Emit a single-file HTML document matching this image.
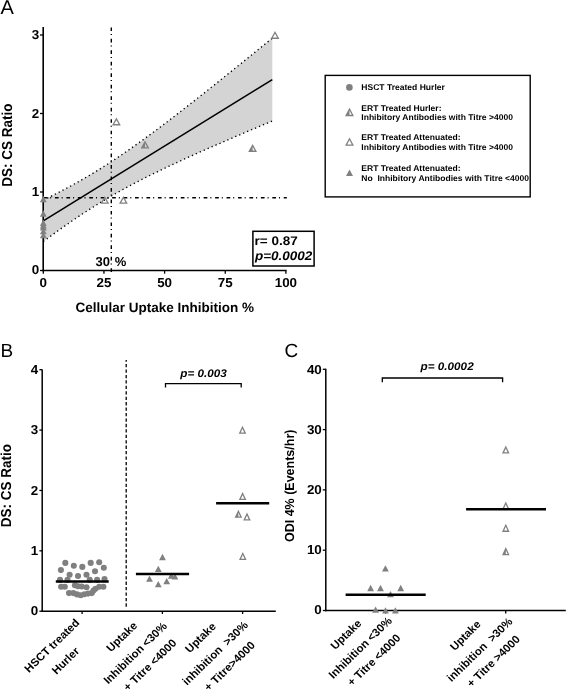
<!DOCTYPE html>
<html><head><meta charset="utf-8"><style>
html,body{margin:0;padding:0;background:#fff;width:567px;height:690px;overflow:hidden}
svg{display:block;will-change:transform}
text{font-family:"Liberation Sans", sans-serif;fill:#000;white-space:pre;text-rendering:geometricPrecision}
</style></head><body>
<svg width="567" height="690" viewBox="0 0 567 690" font-family='"Liberation Sans", sans-serif'>
<text x="0.5" y="13.7" font-size="20" font-weight="normal">A</text>
<polygon points="43.30,200.14 46.16,198.73 49.02,197.30 51.89,195.86 54.75,194.41 57.61,192.93 60.47,191.45 63.34,189.94 66.20,188.42 69.06,186.88 71.92,185.33 74.79,183.75 77.65,182.15 80.51,180.53 83.38,178.89 86.24,177.23 89.10,175.55 91.96,173.85 94.82,172.12 97.69,170.37 100.55,168.59 103.41,166.80 106.28,164.98 109.14,163.14 112.00,161.27 114.86,159.39 117.72,157.48 120.59,155.55 123.45,153.60 126.31,151.64 129.18,149.65 132.04,147.65 134.90,145.62 137.76,143.58 140.62,141.53 143.49,139.46 146.35,137.37 149.21,135.27 152.07,133.16 154.94,131.03 157.80,128.90 160.66,126.75 163.52,124.59 166.39,122.42 169.25,120.24 172.11,118.05 174.98,115.85 177.84,113.65 180.70,111.43 183.56,109.21 186.43,106.98 189.29,104.75 192.15,102.51 195.01,100.26 197.88,98.01 200.74,95.75 203.60,93.49 206.46,91.22 209.32,88.95 212.19,86.67 215.05,84.39 217.91,82.10 220.77,79.82 223.64,77.52 226.50,75.23 229.36,72.93 232.23,70.63 235.09,68.32 237.95,66.02 240.81,63.71 243.68,61.40 246.54,59.08 249.40,56.76 252.26,54.45 255.12,52.12 257.99,49.80 260.85,47.48 263.71,45.15 266.57,42.82 269.44,40.49 272.30,38.16 272.30,121.05 269.44,122.25 266.57,123.45 263.71,124.65 260.85,125.86 257.99,127.06 255.12,128.27 252.26,129.48 249.40,130.69 246.54,131.91 243.68,133.12 240.81,134.34 237.95,135.56 235.09,136.78 232.23,138.01 229.36,139.24 226.50,140.47 223.64,141.71 220.77,142.95 217.91,144.19 215.05,145.44 212.19,146.68 209.32,147.94 206.46,149.20 203.60,150.46 200.74,151.73 197.88,153.00 195.01,154.28 192.15,155.56 189.29,156.85 186.43,158.15 183.56,159.45 180.70,160.76 177.84,162.08 174.98,163.40 172.11,164.73 169.25,166.08 166.39,167.43 163.52,168.79 160.66,170.16 157.80,171.54 154.94,172.93 152.07,174.34 149.21,175.75 146.35,177.19 143.49,178.63 140.62,180.09 137.76,181.57 134.90,183.06 132.04,184.57 129.18,186.09 126.31,187.64 123.45,189.20 120.59,190.78 117.72,192.38 114.86,194.01 112.00,195.65 109.14,197.32 106.28,199.01 103.41,200.72 100.55,202.46 97.69,204.21 94.82,205.99 91.96,207.79 89.10,209.62 86.24,211.47 83.38,213.34 80.51,215.23 77.65,217.14 74.79,219.07 71.92,221.03 69.06,223.00 66.20,224.99 63.34,227.00 60.47,229.03 57.61,231.07 54.75,233.13 51.89,235.21 49.02,237.30 46.16,239.40 43.30,241.52" fill="#d4d4d4"/>
<polyline points="43.30,200.14 46.16,198.73 49.02,197.30 51.89,195.86 54.75,194.41 57.61,192.93 60.47,191.45 63.34,189.94 66.20,188.42 69.06,186.88 71.92,185.33 74.79,183.75 77.65,182.15 80.51,180.53 83.38,178.89 86.24,177.23 89.10,175.55 91.96,173.85 94.82,172.12 97.69,170.37 100.55,168.59 103.41,166.80 106.28,164.98 109.14,163.14 112.00,161.27 114.86,159.39 117.72,157.48 120.59,155.55 123.45,153.60 126.31,151.64 129.18,149.65 132.04,147.65 134.90,145.62 137.76,143.58 140.62,141.53 143.49,139.46 146.35,137.37 149.21,135.27 152.07,133.16 154.94,131.03 157.80,128.90 160.66,126.75 163.52,124.59 166.39,122.42 169.25,120.24 172.11,118.05 174.98,115.85 177.84,113.65 180.70,111.43 183.56,109.21 186.43,106.98 189.29,104.75 192.15,102.51 195.01,100.26 197.88,98.01 200.74,95.75 203.60,93.49 206.46,91.22 209.32,88.95 212.19,86.67 215.05,84.39 217.91,82.10 220.77,79.82 223.64,77.52 226.50,75.23 229.36,72.93 232.23,70.63 235.09,68.32 237.95,66.02 240.81,63.71 243.68,61.40 246.54,59.08 249.40,56.76 252.26,54.45 255.12,52.12 257.99,49.80 260.85,47.48 263.71,45.15 266.57,42.82 269.44,40.49 272.30,38.16" fill="none" stroke="#000" stroke-width="1.35" stroke-dasharray="1.3 3.0"/>
<polyline points="43.30,241.52 46.16,239.40 49.02,237.30 51.89,235.21 54.75,233.13 57.61,231.07 60.47,229.03 63.34,227.00 66.20,224.99 69.06,223.00 71.92,221.03 74.79,219.07 77.65,217.14 80.51,215.23 83.38,213.34 86.24,211.47 89.10,209.62 91.96,207.79 94.82,205.99 97.69,204.21 100.55,202.46 103.41,200.72 106.28,199.01 109.14,197.32 112.00,195.65 114.86,194.01 117.72,192.38 120.59,190.78 123.45,189.20 126.31,187.64 129.18,186.09 132.04,184.57 134.90,183.06 137.76,181.57 140.62,180.09 143.49,178.63 146.35,177.19 149.21,175.75 152.07,174.34 154.94,172.93 157.80,171.54 160.66,170.16 163.52,168.79 166.39,167.43 169.25,166.08 172.11,164.73 174.98,163.40 177.84,162.08 180.70,160.76 183.56,159.45 186.43,158.15 189.29,156.85 192.15,155.56 195.01,154.28 197.88,153.00 200.74,151.73 203.60,150.46 206.46,149.20 209.32,147.94 212.19,146.68 215.05,145.44 217.91,144.19 220.77,142.95 223.64,141.71 226.50,140.47 229.36,139.24 232.23,138.01 235.09,136.78 237.95,135.56 240.81,134.34 243.68,133.12 246.54,131.91 249.40,130.69 252.26,129.48 255.12,128.27 257.99,127.06 260.85,125.86 263.71,124.65 266.57,123.45 269.44,122.25 272.30,121.05" fill="none" stroke="#000" stroke-width="1.35" stroke-dasharray="1.3 3.0"/>
<line x1="43.30" y1="220.83" x2="272.30" y2="79.61" stroke="#000" stroke-width="1.6" stroke-linecap="butt"/>
<line x1="111.30" y1="27.40" x2="111.30" y2="273.70" stroke="#000" stroke-width="1.4" stroke-linecap="butt" stroke-dasharray="3.7 2.9 1 3.87"/>
<line x1="43.5" y1="197.7" x2="286.8" y2="197.7" stroke="#000" stroke-width="1.4" stroke-dasharray="3.7 3.0 1 3.74" stroke-dashoffset="0"/>
<line x1="43.20" y1="27.00" x2="43.20" y2="271.30" stroke="#000" stroke-width="1.6" stroke-linecap="butt"/>
<line x1="42.40" y1="270.50" x2="286.60" y2="270.50" stroke="#000" stroke-width="1.5" stroke-linecap="butt"/>
<line x1="40.00" y1="270.50" x2="43.20" y2="270.50" stroke="#000" stroke-width="1.3" stroke-linecap="butt"/>
<text transform="translate(39.20,274.28) scale(1.03,1)" x="0" y="0" font-size="13" font-weight="bold" text-anchor="end">0</text>
<line x1="40.00" y1="192.00" x2="43.20" y2="192.00" stroke="#000" stroke-width="1.3" stroke-linecap="butt"/>
<text transform="translate(39.20,196.28) scale(1.03,1)" x="0" y="0" font-size="13" font-weight="bold" text-anchor="end">1</text>
<line x1="40.00" y1="113.50" x2="43.20" y2="113.50" stroke="#000" stroke-width="1.3" stroke-linecap="butt"/>
<text transform="translate(39.20,117.78) scale(1.03,1)" x="0" y="0" font-size="13" font-weight="bold" text-anchor="end">2</text>
<line x1="40.00" y1="35.00" x2="43.20" y2="35.00" stroke="#000" stroke-width="1.3" stroke-linecap="butt"/>
<text transform="translate(39.20,39.28) scale(1.03,1)" x="0" y="0" font-size="13" font-weight="bold" text-anchor="end">3</text>
<line x1="43.30" y1="270.50" x2="43.30" y2="273.70" stroke="#000" stroke-width="1.3" stroke-linecap="butt"/>
<text transform="translate(43.30,286.50) scale(1.03,1)" x="0" y="0" font-size="13" font-weight="bold" text-anchor="middle">0</text>
<line x1="103.95" y1="270.50" x2="103.95" y2="273.70" stroke="#000" stroke-width="1.3" stroke-linecap="butt"/>
<text transform="translate(103.95,286.50) scale(1.03,1)" x="0" y="0" font-size="13" font-weight="bold" text-anchor="middle">25</text>
<line x1="164.60" y1="270.50" x2="164.60" y2="273.70" stroke="#000" stroke-width="1.3" stroke-linecap="butt"/>
<text transform="translate(164.60,286.50) scale(1.03,1)" x="0" y="0" font-size="13" font-weight="bold" text-anchor="middle">50</text>
<line x1="225.25" y1="270.50" x2="225.25" y2="273.70" stroke="#000" stroke-width="1.3" stroke-linecap="butt"/>
<text transform="translate(225.25,286.50) scale(1.03,1)" x="0" y="0" font-size="13" font-weight="bold" text-anchor="middle">75</text>
<line x1="285.90" y1="270.50" x2="285.90" y2="273.70" stroke="#000" stroke-width="1.3" stroke-linecap="butt"/>
<text transform="translate(285.90,286.50) scale(1.03,1)" x="0" y="0" font-size="13" font-weight="bold" text-anchor="middle">100</text>
<text x="164.80" y="311.50" font-size="13.5" font-weight="bold" text-anchor="middle">Cellular Uptake Inhibition %</text>
<text transform="translate(11.5,145.2) rotate(-90) scale(1,1.07)" x="0" y="0" font-size="13.5" font-weight="bold" text-anchor="middle">DS: CS Ratio</text>
<text x="95.60" y="266.30" font-size="13" font-weight="bold" text-anchor="start">30</text>
<text x="114.80" y="266.30" font-size="13" font-weight="bold" text-anchor="start">%</text>
<polygon points="39.90,202.15 46.70,202.15 43.30,195.85" fill="#808080"/>
<polygon points="39.90,216.65 46.70,216.65 43.30,210.35" fill="#808080"/>
<polygon points="39.90,225.90 46.70,225.90 43.30,219.60" fill="#808080"/>
<polygon points="39.90,228.40 46.70,228.40 43.30,222.10" fill="#808080"/>
<polygon points="39.90,230.50 46.70,230.50 43.30,224.20" fill="#808080"/>
<polygon points="39.90,234.30 46.70,234.30 43.30,228.00" fill="#808080"/>
<polygon points="39.90,238.30 46.70,238.30 43.30,232.00" fill="#808080"/>
<polygon points="271.70,38.25 278.30,38.25 275.00,32.35" fill="none" stroke="#808080" stroke-width="1.3" stroke-linejoin="miter"/>
<polygon points="113.10,124.75 119.70,124.75 116.40,118.85" fill="none" stroke="#808080" stroke-width="1.3" stroke-linejoin="miter"/>
<polygon points="101.50,203.15 108.10,203.15 104.80,197.25" fill="none" stroke="#808080" stroke-width="1.3" stroke-linejoin="miter"/>
<polygon points="120.10,203.15 126.70,203.15 123.40,197.25" fill="none" stroke="#808080" stroke-width="1.3" stroke-linejoin="miter"/>
<polygon points="141.70,147.85 145.00,147.85 145.00,141.95" fill="#808080"/>
<polygon points="141.70,147.85 148.30,147.85 145.00,141.95" fill="none" stroke="#808080" stroke-width="1.3" stroke-linejoin="miter"/>
<polygon points="249.30,151.25 252.60,151.25 252.60,145.35" fill="#808080"/>
<polygon points="249.30,151.25 255.90,151.25 252.60,145.35" fill="none" stroke="#808080" stroke-width="1.3" stroke-linejoin="miter"/>
<rect x="252.9" y="231.3" width="61.2" height="34.7" fill="#fff" stroke="#000" stroke-width="1.5"/>
<text transform="translate(254.50,244.80) scale(1.08,1)" x="0" y="0" font-size="12.5" font-weight="bold" text-anchor="start">r= 0.87</text>
<text transform="translate(254.90,260.40) scale(1.08,1)" x="0" y="0" font-size="12.5" font-weight="bold" text-anchor="start" font-style="italic">p=0.0002</text>
<rect x="325.2" y="75.4" width="205" height="121.5" fill="none" stroke="#000" stroke-width="1.4"/>
<circle cx="349.40" cy="87.40" r="3.3" fill="#808080"/>
<text transform="translate(361.30,90.40) scale(1.02,1)" x="0" y="0" font-size="8.4" font-weight="bold" text-anchor="start">HSCT Treated Hurler</text>
<polygon points="346.10,115.50 349.50,115.50 349.50,109.10" fill="#808080"/>
<polygon points="346.10,115.50 352.90,115.50 349.50,109.10" fill="none" stroke="#808080" stroke-width="1.3" stroke-linejoin="miter"/>
<text transform="translate(361.30,110.50) scale(1.02,1)" x="0" y="0" font-size="8.4" font-weight="bold" text-anchor="start">ERT Treated Hurler:</text>
<text transform="translate(361.30,119.70) scale(1.02,1)" x="0" y="0" font-size="8.4" font-weight="bold" text-anchor="start">Inhibitory Antibodies with Titre &gt;4000</text>
<polygon points="346.10,145.20 352.90,145.20 349.50,138.80" fill="none" stroke="#808080" stroke-width="1.3" stroke-linejoin="miter"/>
<text transform="translate(361.30,139.90) scale(1.02,1)" x="0" y="0" font-size="8.4" font-weight="bold" text-anchor="start">ERT Treated Attenuated:</text>
<text transform="translate(361.30,149.50) scale(1.02,1)" x="0" y="0" font-size="8.4" font-weight="bold" text-anchor="start">Inhibitory Antibodies with Titre &gt;4000</text>
<polygon points="346.00,176.00 353.00,176.00 349.50,169.40" fill="#808080"/>
<text transform="translate(361.30,171.10) scale(1.02,1)" x="0" y="0" font-size="8.4" font-weight="bold" text-anchor="start">ERT Treated Attenuated:</text>
<text transform="translate(361.30,180.50) scale(1.02,1)" x="0" y="0" font-size="8.4" font-weight="bold" text-anchor="start">No  Inhibitory Antibodies with Titre &lt;4000</text>
<text x="0.5" y="356.9" font-size="19" font-weight="normal">B</text>
<line x1="42.20" y1="369.50" x2="42.20" y2="611.95" stroke="#000" stroke-width="1.5" stroke-linecap="butt"/>
<line x1="41.45" y1="611.20" x2="275.80" y2="611.20" stroke="#000" stroke-width="1.5" stroke-linecap="butt"/>
<line x1="39.40" y1="611.20" x2="42.20" y2="611.20" stroke="#000" stroke-width="1.3" stroke-linecap="butt"/>
<text transform="translate(38.20,614.98) scale(1.03,1)" x="0" y="0" font-size="13" font-weight="bold" text-anchor="end">0</text>
<line x1="39.40" y1="550.83" x2="42.20" y2="550.83" stroke="#000" stroke-width="1.3" stroke-linecap="butt"/>
<text transform="translate(38.20,555.11) scale(1.03,1)" x="0" y="0" font-size="13" font-weight="bold" text-anchor="end">1</text>
<line x1="39.40" y1="490.45" x2="42.20" y2="490.45" stroke="#000" stroke-width="1.3" stroke-linecap="butt"/>
<text transform="translate(38.20,494.73) scale(1.03,1)" x="0" y="0" font-size="13" font-weight="bold" text-anchor="end">2</text>
<line x1="39.40" y1="430.08" x2="42.20" y2="430.08" stroke="#000" stroke-width="1.3" stroke-linecap="butt"/>
<text transform="translate(38.20,434.36) scale(1.03,1)" x="0" y="0" font-size="13" font-weight="bold" text-anchor="end">3</text>
<line x1="39.40" y1="369.70" x2="42.20" y2="369.70" stroke="#000" stroke-width="1.3" stroke-linecap="butt"/>
<text transform="translate(38.20,373.98) scale(1.03,1)" x="0" y="0" font-size="13" font-weight="bold" text-anchor="end">4</text>
<line x1="82.10" y1="611.20" x2="82.10" y2="614.00" stroke="#000" stroke-width="1.3" stroke-linecap="butt"/>
<line x1="162.40" y1="611.20" x2="162.40" y2="614.00" stroke="#000" stroke-width="1.3" stroke-linecap="butt"/>
<line x1="242.60" y1="611.20" x2="242.60" y2="614.00" stroke="#000" stroke-width="1.3" stroke-linecap="butt"/>
<text transform="translate(10.5,485.7) rotate(-90) scale(1,1.07)" x="0" y="0" font-size="13.5" font-weight="bold" text-anchor="middle">DS: CS Ratio</text>
<line x1="126.2" y1="360" x2="126.2" y2="607.5" stroke="#000" stroke-width="1.3" stroke-dasharray="3.3 2.14" stroke-dashoffset="1.44"/>
<polyline points="165.5,387.4 165.5,383.7 241.2,383.7 241.2,387.4" fill="none" stroke="#000" stroke-width="1.3"/>
<text transform="translate(203.60,377.10) scale(1.065,1)" x="0" y="0" font-size="11" font-weight="bold" text-anchor="middle" font-style="italic">p= 0.003</text>
<circle cx="65.30" cy="562.90" r="3.05" fill="#808080"/>
<circle cx="73.80" cy="565.80" r="3.05" fill="#808080"/>
<circle cx="82.30" cy="566.90" r="3.05" fill="#808080"/>
<circle cx="90.70" cy="562.90" r="3.05" fill="#808080"/>
<circle cx="99.20" cy="562.20" r="3.05" fill="#808080"/>
<circle cx="60.90" cy="570.10" r="3.05" fill="#808080"/>
<circle cx="103.80" cy="567.70" r="3.05" fill="#808080"/>
<circle cx="95.00" cy="571.20" r="3.05" fill="#808080"/>
<circle cx="69.60" cy="574.80" r="3.05" fill="#808080"/>
<circle cx="78.00" cy="576.00" r="3.05" fill="#808080"/>
<circle cx="86.50" cy="574.80" r="3.05" fill="#808080"/>
<circle cx="60.00" cy="579.90" r="3.05" fill="#808080"/>
<circle cx="67.50" cy="579.90" r="3.05" fill="#808080"/>
<circle cx="89.70" cy="579.90" r="3.05" fill="#808080"/>
<circle cx="97.10" cy="579.90" r="3.05" fill="#808080"/>
<circle cx="104.50" cy="579.10" r="3.05" fill="#808080"/>
<circle cx="61.10" cy="586.70" r="3.05" fill="#808080"/>
<circle cx="64.80" cy="586.70" r="3.05" fill="#808080"/>
<circle cx="74.90" cy="585.20" r="3.05" fill="#808080"/>
<circle cx="78.00" cy="586.20" r="3.05" fill="#808080"/>
<circle cx="81.70" cy="586.50" r="3.05" fill="#808080"/>
<circle cx="86.50" cy="587.30" r="3.05" fill="#808080"/>
<circle cx="95.50" cy="588.70" r="3.05" fill="#808080"/>
<circle cx="99.20" cy="586.70" r="3.05" fill="#808080"/>
<circle cx="103.40" cy="586.70" r="3.05" fill="#808080"/>
<circle cx="69.00" cy="593.10" r="3.05" fill="#808080"/>
<circle cx="73.30" cy="593.10" r="3.05" fill="#808080"/>
<circle cx="77.00" cy="594.40" r="3.05" fill="#808080"/>
<circle cx="80.70" cy="595.20" r="3.05" fill="#808080"/>
<circle cx="84.40" cy="594.20" r="3.05" fill="#808080"/>
<circle cx="88.10" cy="593.60" r="3.05" fill="#808080"/>
<circle cx="91.80" cy="593.10" r="3.05" fill="#808080"/>
<circle cx="93.50" cy="590.50" r="3.05" fill="#808080"/>
<line x1="55.80" y1="581.60" x2="108.70" y2="581.60" stroke="#000" stroke-width="2.5" stroke-linecap="butt"/>
<polygon points="159.10,560.15 165.90,560.15 162.50,553.85" fill="#808080"/>
<polygon points="154.90,572.05 161.70,572.05 158.30,565.75" fill="#808080"/>
<polygon points="146.10,581.75 152.90,581.75 149.50,575.45" fill="#808080"/>
<polygon points="154.90,587.25 161.70,587.25 158.30,580.95" fill="#808080"/>
<polygon points="163.30,584.35 170.10,584.35 166.70,578.05" fill="#808080"/>
<polygon points="167.90,578.75 174.70,578.75 171.30,572.45" fill="#808080"/>
<polygon points="171.50,579.55 178.30,579.55 174.90,573.25" fill="#808080"/>
<line x1="135.90" y1="574.10" x2="189.10" y2="574.10" stroke="#000" stroke-width="2.5" stroke-linecap="butt"/>
<polygon points="239.75,433.15 245.25,433.15 242.50,427.25" fill="none" stroke="#808080" stroke-width="1.3" stroke-linejoin="miter"/>
<polygon points="239.85,499.45 245.35,499.45 242.60,493.55" fill="none" stroke="#808080" stroke-width="1.3" stroke-linejoin="miter"/>
<polygon points="244.25,519.95 249.75,519.95 247.00,514.05" fill="none" stroke="#808080" stroke-width="1.3" stroke-linejoin="miter"/>
<polygon points="240.05,559.45 245.55,559.45 242.80,553.55" fill="none" stroke="#808080" stroke-width="1.3" stroke-linejoin="miter"/>
<polygon points="235.65,517.15 238.40,517.15 238.40,511.25" fill="#808080"/>
<polygon points="235.65,517.15 241.15,517.15 238.40,511.25" fill="none" stroke="#808080" stroke-width="1.3" stroke-linejoin="miter"/>
<line x1="216.10" y1="503.20" x2="269.20" y2="503.20" stroke="#000" stroke-width="2.5" stroke-linecap="butt"/>
<text transform="translate(51.75,645.50) scale(1.03,1) rotate(-45)" x="0" y="4.00" font-size="11.1" font-weight="bold" text-anchor="middle">HSCT treated</text>
<text transform="translate(65.40,660.50) scale(1.03,1) rotate(-45)" x="0" y="4.00" font-size="11.1" font-weight="bold" text-anchor="middle">Hurler</text>
<text transform="translate(121.50,636.60) scale(1.03,1) rotate(-45)" x="0" y="4.00" font-size="11.1" font-weight="bold" text-anchor="middle">Uptake</text>
<text transform="translate(135.10,652.90) scale(1.03,1) rotate(-45)" x="0" y="4.00" font-size="11.1" font-weight="bold" text-anchor="middle">Inhibition &lt;30%</text>
<text transform="translate(149.80,664.80) scale(1.03,1) rotate(-45)" x="0" y="4.00" font-size="11.1" font-weight="bold" text-anchor="middle">+ Titre &lt;4000</text>
<text transform="translate(200.40,637.50) scale(1.03,1) rotate(-45)" x="0" y="4.00" font-size="11.1" font-weight="bold" text-anchor="middle">Uptake</text>
<text transform="translate(214.90,653.00) scale(1.03,1) rotate(-45)" x="0" y="4.00" font-size="11.1" font-weight="bold" text-anchor="middle">inhibition  &gt;30%</text>
<text transform="translate(229.30,665.90) scale(1.03,1) rotate(-45)" x="0" y="4.00" font-size="11.1" font-weight="bold" text-anchor="middle">+ Titre&gt;4000</text>
<text x="284.5" y="356.9" font-size="19" font-weight="normal">C</text>
<line x1="325.80" y1="368.80" x2="325.80" y2="611.25" stroke="#000" stroke-width="1.5" stroke-linecap="butt"/>
<line x1="325.05" y1="610.45" x2="565.80" y2="610.45" stroke="#000" stroke-width="1.6" stroke-linecap="butt"/>
<line x1="322.80" y1="610.50" x2="325.80" y2="610.50" stroke="#000" stroke-width="1.3" stroke-linecap="butt"/>
<text transform="translate(321.80,614.28) scale(1.03,1)" x="0" y="0" font-size="13" font-weight="bold" text-anchor="end">0</text>
<line x1="322.80" y1="550.20" x2="325.80" y2="550.20" stroke="#000" stroke-width="1.3" stroke-linecap="butt"/>
<text transform="translate(321.80,554.48) scale(1.03,1)" x="0" y="0" font-size="13" font-weight="bold" text-anchor="end">10</text>
<line x1="322.80" y1="489.90" x2="325.80" y2="489.90" stroke="#000" stroke-width="1.3" stroke-linecap="butt"/>
<text transform="translate(321.80,494.18) scale(1.03,1)" x="0" y="0" font-size="13" font-weight="bold" text-anchor="end">20</text>
<line x1="322.80" y1="429.60" x2="325.80" y2="429.60" stroke="#000" stroke-width="1.3" stroke-linecap="butt"/>
<text transform="translate(321.80,433.88) scale(1.03,1)" x="0" y="0" font-size="13" font-weight="bold" text-anchor="end">30</text>
<line x1="322.80" y1="369.30" x2="325.80" y2="369.30" stroke="#000" stroke-width="1.3" stroke-linecap="butt"/>
<text transform="translate(321.80,373.58) scale(1.03,1)" x="0" y="0" font-size="13" font-weight="bold" text-anchor="end">40</text>
<line x1="385.60" y1="610.50" x2="385.60" y2="613.50" stroke="#000" stroke-width="1.3" stroke-linecap="butt"/>
<line x1="505.70" y1="610.50" x2="505.70" y2="613.50" stroke="#000" stroke-width="1.3" stroke-linecap="butt"/>
<text transform="translate(294.3,485.8) rotate(-90) scale(1,1.05)" x="0" y="0" font-size="12.5" font-weight="bold" text-anchor="middle">ODI 4% (Events/hr)</text>
<polyline points="382.3,382.2 382.3,378 502.6,378 502.6,382.2" fill="none" stroke="#000" stroke-width="1.3"/>
<text transform="translate(447.10,370.40) scale(1.065,1)" x="0" y="0" font-size="11" font-weight="bold" text-anchor="middle" font-style="italic">p= 0.0002</text>
<polygon points="382.00,571.45 388.80,571.45 385.40,565.15" fill="#808080"/>
<polygon points="367.20,591.15 374.00,591.15 370.60,584.85" fill="#808080"/>
<polygon points="377.10,591.15 383.90,591.15 380.50,584.85" fill="#808080"/>
<polygon points="397.30,591.15 404.10,591.15 400.70,584.85" fill="#808080"/>
<polygon points="387.10,597.25 393.90,597.25 390.50,590.95" fill="#808080"/>
<polygon points="372.20,612.75 379.00,612.75 375.60,606.45" fill="#808080"/>
<polygon points="382.10,613.55 388.90,613.55 385.50,607.25" fill="#808080"/>
<polygon points="392.00,613.55 398.80,613.55 395.40,607.25" fill="#808080"/>
<line x1="345.60" y1="594.65" x2="425.70" y2="594.65" stroke="#000" stroke-width="2.5" stroke-linecap="butt"/>
<polygon points="503.05,452.95 508.55,452.95 505.80,447.05" fill="none" stroke="#808080" stroke-width="1.3" stroke-linejoin="miter"/>
<polygon points="503.05,508.95 508.55,508.95 505.80,503.05" fill="none" stroke="#808080" stroke-width="1.3" stroke-linejoin="miter"/>
<polygon points="503.05,531.25 508.55,531.25 505.80,525.35" fill="none" stroke="#808080" stroke-width="1.3" stroke-linejoin="miter"/>
<polygon points="503.05,554.55 505.80,554.55 505.80,548.65" fill="#808080"/>
<polygon points="503.05,554.55 508.55,554.55 505.80,548.65" fill="none" stroke="#808080" stroke-width="1.3" stroke-linejoin="miter"/>
<line x1="466.10" y1="509.30" x2="546.00" y2="509.30" stroke="#000" stroke-width="2.5" stroke-linecap="butt"/>
<text transform="translate(345.75,634.35) scale(1.03,1) rotate(-45)" x="0" y="4.00" font-size="11.1" font-weight="bold" text-anchor="middle">Uptake</text>
<text transform="translate(360.10,647.50) scale(1.03,1) rotate(-45)" x="0" y="4.00" font-size="11.1" font-weight="bold" text-anchor="middle">Inhibition &lt;30%</text>
<text transform="translate(373.80,659.85) scale(1.03,1) rotate(-45)" x="0" y="4.00" font-size="11.1" font-weight="bold" text-anchor="middle">+ Titre &lt;4000</text>
<text transform="translate(465.20,635.25) scale(1.03,1) rotate(-45)" x="0" y="4.00" font-size="11.1" font-weight="bold" text-anchor="middle">Uptake</text>
<text transform="translate(479.50,649.45) scale(1.03,1) rotate(-45)" x="0" y="4.00" font-size="11.1" font-weight="bold" text-anchor="middle">inhibition  &gt;30%</text>
<text transform="translate(493.20,661.00) scale(1.03,1) rotate(-45)" x="0" y="4.00" font-size="11.1" font-weight="bold" text-anchor="middle">+ Titre &gt;4000</text>
</svg>
</body></html>
